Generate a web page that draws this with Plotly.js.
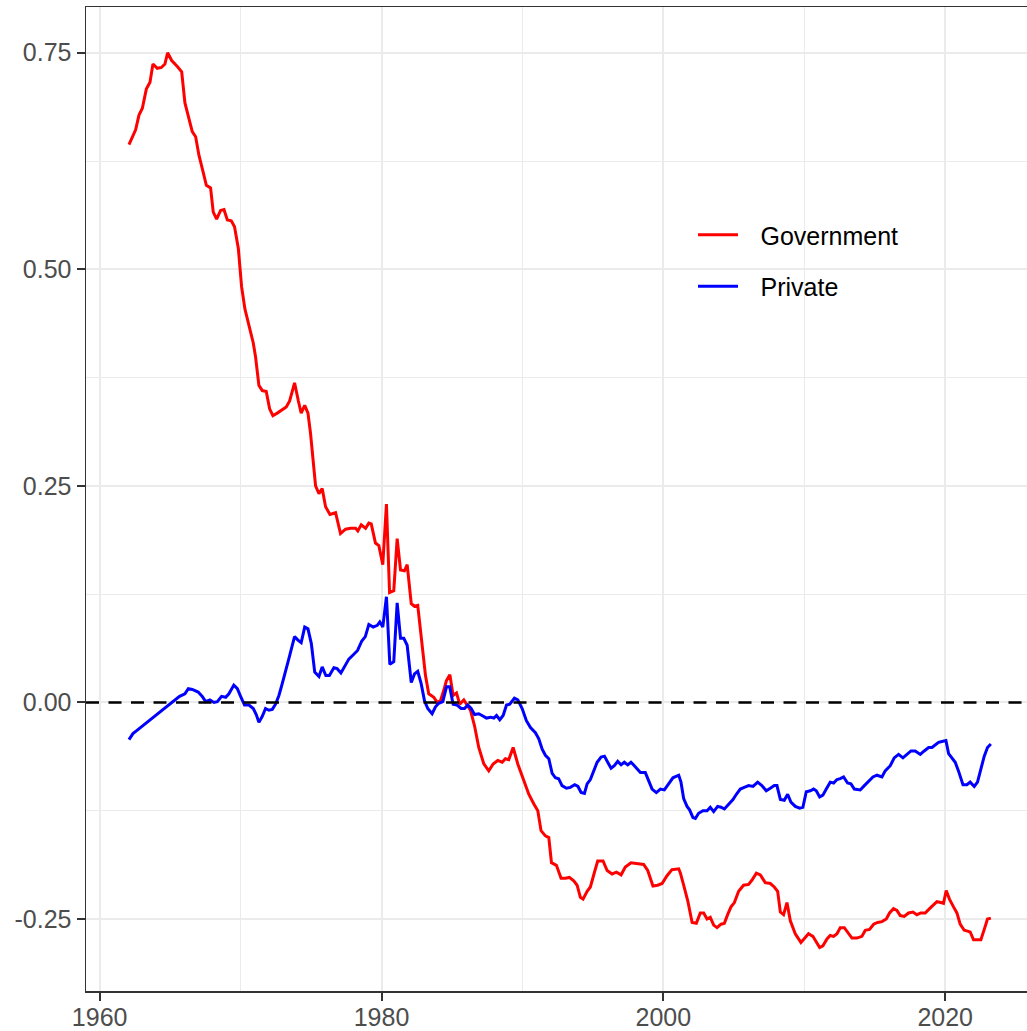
<!DOCTYPE html>
<html>
<head>
<meta charset="utf-8">
<script src="https://cdn.plot.ly/plotly-3.0.1.min.js"></script>
<style>
html, body { margin: 0; padding: 0; overflow: hidden; background: #fff; }
#chart { width: 1040px; height: 1031px; }
</style>
</head>
<body>
<div id="chart"></div>
<script>
const govYear = [1962.08,1962.55,1962.79,1963.03,1963.31,1963.57,1963.78,1964.09,1964.38,1964.63,1964.82,1965.11,1965.51,1965.82,1966.05,1966.29,1966.57,1966.81,1967.04,1967.33,1967.57,1967.87,1968.06,1968.30,1968.58,1968.82,1969.06,1969.34,1969.57,1969.84,1970.07,1970.31,1970.59,1970.90,1971.06,1971.30,1971.54,1971.82,1972.06,1972.29,1972.60,1972.91,1973.24,1973.48,1973.83,1974.10,1974.30,1974.55,1974.78,1974.96,1975.15,1975.32,1975.56,1975.79,1976.03,1976.34,1976.74,1977.09,1977.45,1977.80,1978.16,1978.32,1978.56,1978.87,1979.10,1979.27,1979.57,1979.81,1980.09,1980.35,1980.57,1980.87,1981.11,1981.35,1981.63,1981.82,1982.11,1982.34,1982.57,1982.89,1983.12,1983.35,1983.71,1983.95,1984.18,1984.42,1984.60,1984.85,1985.08,1985.32,1985.55,1985.84,1986.08,1986.31,1986.60,1986.90,1987.26,1987.61,1987.92,1988.25,1988.56,1988.79,1989.03,1989.34,1989.67,1990.09,1990.45,1990.80,1991.09,1991.32,1991.63,1991.87,1992.06,1992.41,1992.74,1993.05,1993.33,1993.64,1993.88,1994.11,1994.30,1994.59,1994.82,1995.11,1995.34,1995.72,1996.01,1996.36,1996.67,1997.00,1997.30,1997.70,1998.09,1998.37,1998.60,1998.89,1999.26,1999.59,1999.91,2000.26,2000.61,2001.09,2001.21,2001.44,2001.73,2002.04,2002.34,2002.62,2002.86,2003.10,2003.33,2003.57,2003.81,2004.09,2004.33,2004.56,2004.80,2005.04,2005.34,2005.69,2006.05,2006.29,2006.60,2006.88,2007.23,2007.59,2007.87,2008.11,2008.30,2008.53,2008.77,2009.01,2009.36,2009.76,2010.00,2010.30,2010.61,2010.85,2011.09,2011.32,2011.61,2011.84,2012.08,2012.32,2012.55,2012.84,2013.07,2013.38,2013.73,2014.09,2014.33,2014.63,2014.92,2015.20,2015.51,2015.82,2016.05,2016.33,2016.57,2016.81,2017.09,2017.40,2017.71,2017.99,2018.27,2018.58,2018.89,2019.17,2019.41,2019.69,2019.88,2020.07,2020.30,2020.59,2020.83,2021.06,2021.35,2021.58,2021.77,2022.01,2022.25,2022.53,2022.77,2023.00,2023.24];
const govValue = [0.644,0.661,0.678,0.686,0.708,0.716,0.737,0.732,0.733,0.737,0.750,0.741,0.734,0.728,0.692,0.678,0.659,0.653,0.632,0.613,0.597,0.594,0.566,0.558,0.568,0.569,0.557,0.556,0.549,0.524,0.480,0.454,0.434,0.415,0.399,0.366,0.360,0.359,0.339,0.331,0.334,0.337,0.341,0.348,0.369,0.348,0.334,0.343,0.334,0.311,0.280,0.250,0.241,0.247,0.226,0.217,0.219,0.195,0.200,0.201,0.201,0.198,0.205,0.201,0.207,0.206,0.184,0.181,0.159,0.229,0.127,0.129,0.189,0.153,0.152,0.159,0.114,0.111,0.112,0.060,0.031,0.010,0.006,0.000,0.002,0.014,0.025,0.032,0.008,0.011,-0.002,0.003,-0.003,-0.009,-0.027,-0.052,-0.071,-0.079,-0.071,-0.067,-0.069,-0.065,-0.066,-0.052,-0.071,-0.090,-0.106,-0.117,-0.125,-0.148,-0.154,-0.156,-0.185,-0.188,-0.203,-0.203,-0.202,-0.206,-0.211,-0.225,-0.227,-0.218,-0.213,-0.196,-0.183,-0.183,-0.194,-0.198,-0.196,-0.199,-0.190,-0.185,-0.186,-0.186,-0.187,-0.194,-0.212,-0.211,-0.209,-0.200,-0.193,-0.192,-0.197,-0.211,-0.229,-0.254,-0.255,-0.243,-0.243,-0.250,-0.248,-0.257,-0.260,-0.256,-0.255,-0.245,-0.236,-0.231,-0.218,-0.211,-0.210,-0.205,-0.197,-0.199,-0.208,-0.209,-0.213,-0.218,-0.242,-0.245,-0.231,-0.252,-0.267,-0.277,-0.272,-0.267,-0.270,-0.277,-0.283,-0.281,-0.273,-0.269,-0.270,-0.267,-0.260,-0.260,-0.265,-0.272,-0.272,-0.270,-0.263,-0.262,-0.256,-0.254,-0.253,-0.250,-0.243,-0.238,-0.240,-0.246,-0.247,-0.243,-0.242,-0.245,-0.243,-0.243,-0.238,-0.233,-0.230,-0.231,-0.232,-0.217,-0.227,-0.236,-0.243,-0.256,-0.263,-0.264,-0.265,-0.274,-0.274,-0.274,-0.262,-0.250,-0.249];

const privYear = [1962.08,1962.36,1962.67,1962.98,1963.31,1963.62,1963.92,1964.26,1964.56,1964.87,1965.15,1965.39,1965.67,1966.05,1966.29,1966.57,1966.99,1967.28,1967.52,1967.82,1968.11,1968.35,1968.65,1968.94,1969.17,1969.52,1969.77,1970.00,1970.28,1970.59,1970.90,1971.11,1971.30,1971.54,1971.77,1972.01,1972.25,1972.48,1972.72,1972.96,1973.19,1973.45,1973.70,1973.83,1974.07,1974.30,1974.55,1974.78,1975.02,1975.26,1975.56,1975.79,1976.05,1976.30,1976.62,1976.85,1977.12,1977.40,1977.68,1978.00,1978.30,1978.60,1978.85,1979.10,1979.41,1979.70,1979.88,1980.09,1980.35,1980.59,1980.87,1981.11,1981.35,1981.58,1981.82,1982.11,1982.34,1982.57,1982.81,1983.05,1983.28,1983.59,1983.83,1984.06,1984.35,1984.61,1984.84,1985.08,1985.36,1985.65,1985.89,1986.12,1986.36,1986.60,1986.90,1987.13,1987.45,1987.73,1987.97,1988.16,1988.39,1988.63,1988.87,1989.10,1989.43,1989.67,1989.98,1990.28,1990.57,1990.92,1991.16,1991.40,1991.63,1991.87,1992.11,1992.34,1992.57,1992.81,1993.12,1993.40,1993.71,1993.94,1994.16,1994.40,1994.59,1994.82,1995.06,1995.30,1995.58,1995.82,1996.05,1996.29,1996.52,1996.76,1997.00,1997.23,1997.47,1997.70,1997.94,1998.18,1998.37,1998.72,1998.96,1999.20,1999.50,1999.79,2000.07,2000.38,2000.68,2001.09,2001.25,2001.44,2001.68,2001.86,2002.10,2002.27,2002.50,2002.81,2003.10,2003.33,2003.57,2003.85,2004.09,2004.33,2004.63,2004.94,2005.18,2005.46,2005.74,2006.05,2006.36,2006.69,2006.99,2007.30,2007.59,2007.87,2008.06,2008.30,2008.58,2008.82,2009.05,2009.36,2009.67,2009.90,2010.14,2010.43,2010.66,2010.85,2011.09,2011.32,2011.56,2011.84,2012.08,2012.32,2012.55,2012.79,2013.07,2013.31,2013.55,2013.97,2014.26,2014.56,2014.87,2015.16,2015.51,2015.74,2016.10,2016.38,2016.69,2017.00,2017.28,2017.57,2017.87,2018.23,2018.51,2018.82,2019.06,2019.29,2019.53,2019.77,2020.05,2020.24,2020.48,2020.71,2020.94,2021.26,2021.54,2021.77,2022.06,2022.29,2022.53,2022.77,2023.00,2023.24];
const privValue = [-0.043,-0.036,-0.032,-0.028,-0.023,-0.019,-0.016,-0.011,-0.007,-0.003,0.000,0.004,0.007,0.010,0.016,0.015,0.012,0.007,0.001,0.003,0.000,0.001,0.007,0.006,0.010,0.020,0.016,0.007,-0.003,-0.003,-0.007,-0.014,-0.023,-0.016,-0.007,-0.009,-0.008,-0.002,0.008,0.022,0.035,0.052,0.068,0.076,0.072,0.069,0.087,0.085,0.068,0.035,0.030,0.041,0.031,0.031,0.040,0.039,0.034,0.042,0.050,0.055,0.060,0.071,0.076,0.090,0.087,0.089,0.093,0.087,0.122,0.044,0.047,0.115,0.074,0.074,0.066,0.023,0.033,0.036,0.022,0.002,-0.007,-0.013,-0.005,-0.001,0.001,0.018,0.018,-0.002,-0.003,-0.007,-0.007,-0.003,-0.007,-0.014,-0.013,-0.015,-0.018,-0.017,-0.018,-0.015,-0.020,-0.015,-0.003,-0.002,0.005,0.003,-0.007,-0.021,-0.029,-0.035,-0.042,-0.054,-0.061,-0.065,-0.082,-0.087,-0.088,-0.096,-0.099,-0.098,-0.095,-0.097,-0.104,-0.105,-0.094,-0.089,-0.078,-0.069,-0.063,-0.062,-0.069,-0.076,-0.073,-0.068,-0.072,-0.069,-0.072,-0.069,-0.073,-0.077,-0.081,-0.081,-0.090,-0.100,-0.104,-0.100,-0.101,-0.094,-0.087,-0.084,-0.092,-0.111,-0.120,-0.124,-0.133,-0.134,-0.128,-0.125,-0.125,-0.121,-0.126,-0.120,-0.121,-0.123,-0.118,-0.112,-0.106,-0.100,-0.098,-0.096,-0.097,-0.092,-0.096,-0.102,-0.099,-0.096,-0.096,-0.112,-0.113,-0.106,-0.115,-0.120,-0.122,-0.121,-0.103,-0.102,-0.100,-0.102,-0.109,-0.107,-0.100,-0.092,-0.093,-0.089,-0.088,-0.086,-0.093,-0.094,-0.100,-0.101,-0.096,-0.091,-0.086,-0.084,-0.086,-0.079,-0.073,-0.064,-0.060,-0.064,-0.060,-0.056,-0.056,-0.060,-0.056,-0.052,-0.052,-0.049,-0.046,-0.045,-0.044,-0.059,-0.064,-0.069,-0.079,-0.095,-0.095,-0.092,-0.097,-0.092,-0.077,-0.062,-0.052,-0.048];

const seriesNames = ["Government", "Private"];
const seriesColors = ["#FF0000", "#0000FF"];
const xTickVals = [1960, 1980, 2000, 2020];
const xTickText = ["1960", "1980", "2000", "2020"];
const yTickVals = [-0.25, 0, 0.25, 0.5, 0.75];
const yTickText = ["-0.25", "0.00", "0.25", "0.50", "0.75"];

const FONT = "Liberation Sans, Arial, Helvetica, sans-serif";
const GAP = "\u2002\u2009";

const traces = [
  {x: govYear, y: govValue, name: GAP + seriesNames[0], legendgroup: "g1", type: "scatter", mode: "lines",
   line: {color: seriesColors[0], width: 3}},
  {x: privYear, y: privValue, name: GAP + seriesNames[1], legendgroup: "g2", type: "scatter", mode: "lines",
   line: {color: seriesColors[1], width: 3}}
];

const layout = {
  width: 1040, height: 1031,
  margin: {l: 86, r: 6, t: 7, b: 40, pad: 0},
  paper_bgcolor: "#FFFFFF", plot_bgcolor: "#FFFFFF",
  font: {family: FONT, size: 25, color: "#4D4D4D"},
  showlegend: true,
  legend: {
    x: 0.6403, y: 0.7916, xanchor: "left", yanchor: "top",
    bgcolor: "rgba(255,255,255,0)", borderwidth: 0,
    font: {family: FONT, size: 25, color: "#000000"},
    traceorder: "grouped", tracegroupgap: 16, itemwidth: 40
  },
  xaxis: {
    range: [1959.03, 2026.3], tickmode: "array", tickvals: xTickVals, ticktext: xTickText,
    showgrid: true, gridcolor: "#EBEBEB", gridwidth: 2,
    minor: {dtick: 10, tick0: 1960, showgrid: true, gridcolor: "#EBEBEB", gridwidth: 1, ticks: ""},
    showline: true, linecolor: "#333333", linewidth: 1.5, mirror: true,
    ticks: "outside", ticklen: 8, tickwidth: 2, tickcolor: "#333333", ticklabelstandoff: -5,
    zeroline: false, tickfont: {family: FONT, size: 25, color: "#4D4D4D"}
  },
  yaxis: {
    range: [-0.3331, 0.8028], tickmode: "array", tickvals: yTickVals, ticktext: yTickText,
    showgrid: true, gridcolor: "#EBEBEB", gridwidth: 2,
    minor: {dtick: 0.125, tick0: 0, showgrid: true, gridcolor: "#EBEBEB", gridwidth: 1, ticks: ""},
    showline: true, linecolor: "#333333", linewidth: 1.5, mirror: true,
    ticks: "outside", ticklen: 8, tickwidth: 2, tickcolor: "#333333",
    zeroline: false, tickfont: {family: FONT, size: 25, color: "#4D4D4D"}
  },
  shapes: [
    {type: "rect", xref: "paper", yref: "paper", x0: 0.6224, x1: 0.8776, y0: 0.6738, y1: 0.8272,
     fillcolor: "#FFFFFF", line: {width: 0}, layer: "between"},
    {type: "line", xref: "paper", yref: "y", x0: 0, x1: 1, y0: 0, y1: 0,
     line: {color: "#000000", width: 2.6, dash: "13px,9.5px"}, layer: "above"}
  ]
};

Plotly.newPlot("chart", traces, layout, {displayModeBar: false, staticPlot: true});
</script>
</body>
</html>
